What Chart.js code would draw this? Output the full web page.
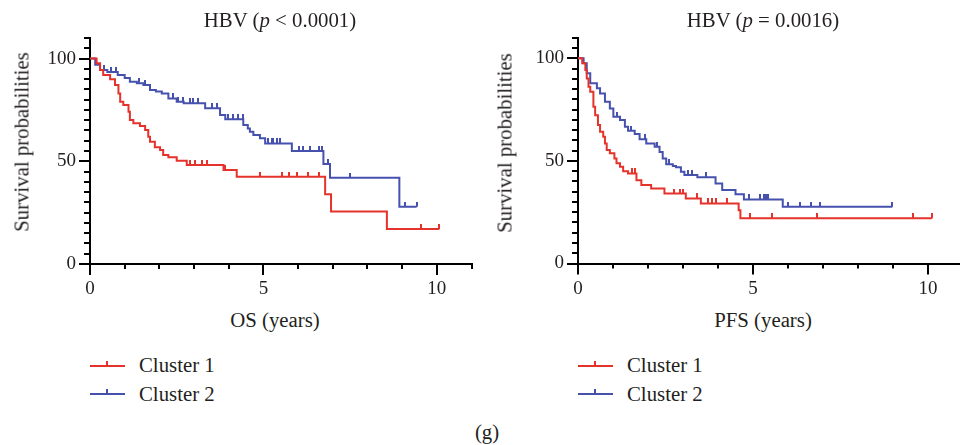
<!DOCTYPE html>
<html>
<head>
<meta charset="utf-8">
<script src="https://cdn.jsdelivr.net/npm/chart.js@4.4.1/dist/chart.umd.min.js"></script>
<style>
  html, body { margin: 0; padding: 0; background: #fff; }
  body { width: 960px; height: 445px; overflow: hidden; position: relative;
         font-family: "Liberation Serif", "DejaVu Serif", serif; color: #231f20; }
  canvas { position: absolute; top: 0; }
  #osChart { left: 0; }
  #pfsChart { left: 488px; }
  .txt { position: absolute; font-size: 20.8px; line-height: 21px; white-space: nowrap;
         transform: translate(-50%, -50%); }
  .ytitle { transform: translate(-50%, -50%) rotate(-90deg); }
  .lab { position: absolute; font-size: 20.8px; line-height: 21px; white-space: nowrap;
         transform: translateY(-50%); }
  .swatch { position: absolute; width: 35px; height: 2px; }
  .swatch::after { content: ''; position: absolute; left: 16px; top: -4px; width: 2px; height: 4px;
                   background: inherit; }
</style>
</head>
<body>
<canvas id="osChart" width="480" height="300"></canvas>
<canvas id="pfsChart" width="480" height="300"></canvas>

<div class="txt" style="left:280px; top:19px;">HBV (<i>p</i> &lt; 0.0001)</div>
<div class="txt" style="left:763px; top:19px;">HBV (<i>p</i> = 0.0016)</div>
<div class="txt ytitle" style="left:21px; top:142px;">Survival probabilities</div>
<div class="txt ytitle" style="left:504px; top:143px;">Survival probabilities</div>
<div class="txt" style="left:275px; top:319px;">OS (years)</div>
<div class="txt" style="left:763px; top:319px;">PFS (years)</div>

<div class="swatch" style="left:90px; top:364.7px; background:#e5322a;"></div>
<div class="lab" style="left:139px; top:364px;">Cluster 1</div>
<div class="swatch" style="left:90px; top:393.3px; background:#4651ae;"></div>
<div class="lab" style="left:139px; top:393px;">Cluster 2</div>

<div class="swatch" style="left:578px; top:364.7px; background:#e5322a;"></div>
<div class="lab" style="left:627px; top:364px;">Cluster 1</div>
<div class="swatch" style="left:578px; top:393.3px; background:#4651ae;"></div>
<div class="lab" style="left:627px; top:393px;">Cluster 2</div>

<div class="txt" style="left:487px; top:431px;">(g)</div>

<script>
// OS, cluster 1 (red)
const osC1Time = [0, 0.19, 0.29, 0.38, 0.58, 0.72, 0.82, 0.87, 0.96, 1.11, 1.15, 1.25, 1.44, 1.59, 1.68, 1.73,
  1.87, 2.02, 2.11, 2.26, 2.5, 2.79, 3.85, 4.23, 6.78, 6.95, 8.56];
const osC1Surv = [100, 97.7, 94.4, 92, 89.9, 87.1, 83, 79, 77.4, 74.1, 70.1, 68.5, 67.2, 65.2, 61.9, 59.5,
  56.8, 55.5, 53, 51.9, 50.3, 48.2, 45.7, 42.5, 33.9, 25.5, 17.0];
const osC1End = 10.07;
const osC1Censor = [2.88, 3.03, 3.22, 3.37, 3.89, 4.9, 5.53, 5.75, 5.98, 6.3, 6.61, 9.54, 10.07];

// OS, cluster 2 (blue)
const osC2Time = [0, 0.15, 0.29, 0.5, 0.8, 1.0, 1.15, 1.35, 1.54, 1.73, 1.9, 2.07, 2.26, 2.5, 2.7, 3.32,
  3.75, 3.9, 4.42, 4.55, 4.61, 4.71, 4.9, 5.05, 5.82, 6.73, 6.92, 8.92];
const osC2Surv = [100, 97, 94.4, 93.5, 92, 90.5, 88.7, 88, 87.1, 84.7, 84, 83, 80.6, 79, 78.2, 75.8,
  72.5, 70.4, 67.6, 66, 64.4, 62.8, 61.2, 58.7, 55, 48.7, 42.0, 27.9];
const osC2End = 9.42;
const osC2Censor = [0.4, 0.6, 0.75, 1.4, 1.6, 2.4, 2.55, 2.69, 2.88, 2.98, 3.12, 3.51, 3.65, 3.99, 4.13,
  4.28, 4.4, 5.14, 5.24, 5.29, 5.38, 5.48, 6.04, 6.15, 6.33, 6.59, 6.68, 6.87, 7.5, 9.07, 9.42];

// PFS, cluster 1 (red)
const pfsC1Time = [0, 0.12, 0.21, 0.25, 0.3, 0.35, 0.44, 0.49, 0.57, 0.63, 0.72, 0.77, 0.82, 0.91, 1.04,
  1.1, 1.2, 1.29, 1.43, 1.67, 1.81, 2.09, 2.47, 3.08, 3.51, 4.59, 4.64];
const pfsC1Surv = [100, 97.6, 94.3, 90.2, 86.1, 83.7, 76.4, 72.3, 67.5, 64.2, 61.8, 58.5, 55.3, 53.7, 51.2,
  48.8, 47.1, 45.0, 43.9, 40.6, 38.2, 36.6, 34.1, 31.7, 29.3, 26.0, 22.0];
const pfsC1End = 10.11;
const pfsC1Censor = [1.53, 1.62, 2.75, 2.9, 2.99, 3.41, 3.7, 3.84, 3.93, 4.26, 4.92, 5.54, 6.83, 9.56, 10.11];

// PFS, cluster 2 (blue)
const pfsC2Time = [0, 0.16, 0.25, 0.35, 0.54, 0.63, 0.77, 0.91, 1.01, 1.2, 1.34, 1.43, 1.62, 1.76, 1.95,
  2.19, 2.33, 2.42, 2.52, 2.71, 2.8, 2.94, 3.04, 3.41, 3.93, 4.12, 4.5, 4.74, 5.85];
const pfsC2Surv = [100, 97.6, 92.7, 87.8, 85.4, 82.9, 78.8, 75.6, 71.5, 69.9, 66.6, 64.7, 63.1, 60.5, 58.5,
  56.9, 54.4, 51.2, 48.4, 47.5, 46.9, 44.7, 43.1, 42.0, 39.0, 35.8, 33.8, 31.2, 27.6];
const pfsC2End = 8.98;
const pfsC2Censor = [1.1, 1.5, 1.9, 2.25, 2.6, 3.13, 3.27, 3.65, 4.88, 5.21, 5.3, 5.38, 5.44, 6.01, 6.34,
  6.67, 6.91, 8.98];

const RED = '#e5322a';
const BLUE = '#4651ae';
const TEXT = '#231f20';
const tickFont = { family: '"Liberation Serif", "DejaVu Serif", serif', size: 19 };

function stepPoints(times, surv, end) {
  const pts = times.map((t, i) => ({ x: t, y: surv[i] }));
  pts.push({ x: end, y: surv[surv.length - 1] });
  return pts;
}

function survAt(times, surv, t) {
  let s = surv[0];
  for (let i = 0; i < times.length; i++) {
    if (times[i] <= t) s = surv[i];
  }
  return s;
}

// little upward tick used for censored cases
function censorMark(color) {
  const c = document.createElement('canvas');
  c.width = 2;
  c.height = 10;
  const g = c.getContext('2d');
  g.fillStyle = color;
  g.fillRect(0, 0, 2, 5);
  return c;
}

function kmLine(times, surv, end, color) {
  return {
    data: stepPoints(times, surv, end),
    borderColor: color,
    borderWidth: 2,
    stepped: true,
    pointRadius: 0,
    fill: false
  };
}

function censorSet(times, surv, censor, color) {
  return {
    data: censor.map(t => ({ x: t, y: survAt(times, surv, t) })),
    showLine: false,
    pointStyle: censorMark(color),
    pointRadius: 5,
    borderWidth: 0
  };
}

const minorTicks = {
  id: 'minorTicks',
  afterDraw(chart) {
    const { ctx, chartArea, scales: { x, y } } = chart;
    ctx.save();
    ctx.strokeStyle = '#000';
    ctx.lineWidth = 2;
    ctx.beginPath();
    for (let v = 5; v <= y.max; v += 5) {
      if (v % 50 === 0) continue;
      const py = Math.round(y.getPixelForValue(v));
      ctx.moveTo(chartArea.left, py);
      ctx.lineTo(chartArea.left - 6, py);
    }
    for (let v = 1; v <= x.max; v += 1) {
      if (v % 5 === 0) continue;
      const px = Math.round(x.getPixelForValue(v));
      ctx.moveTo(px, chartArea.bottom);
      ctx.lineTo(px, chartArea.bottom + 5);
    }
    ctx.stroke();
    ctx.restore();
  }
};

function makeChart(id, c1, c2, padRight, padTop, xHeight) {
  return new Chart(document.getElementById(id), {
    type: 'line',
    data: {
      datasets: [
        censorSet(c1.time, c1.surv, c1.censor, RED),
        kmLine(c1.time, c1.surv, c1.end, RED),
        censorSet(c2.time, c2.surv, c2.censor, BLUE),
        kmLine(c2.time, c2.surv, c2.end, BLUE)
      ]
    },
    options: {
      responsive: false,
      animation: false,
      layout: { padding: { left: 0, right: padRight, top: padTop, bottom: 0 } },
      plugins: { legend: { display: false }, tooltip: { enabled: false } },
      scales: {
        x: {
          type: 'linear',
          min: 0,
          max: 11,
          afterFit: s => { s.height = xHeight; },
          ticks: { stepSize: 5, includeBounds: false, font: tickFont, color: TEXT, padding: 3, maxRotation: 0 },
          grid: { drawOnChartArea: false, color: '#000', lineWidth: 2, tickLength: 11 },
          border: { color: '#000', width: 2 }
        },
        y: {
          min: 0,
          max: 110,
          afterFit: s => { s.width = 90; },
          ticks: { stepSize: 50, includeBounds: false, font: tickFont, color: TEXT, padding: 3 },
          grid: { drawOnChartArea: false, color: '#000', lineWidth: 2, tickLength: 11 },
          border: { color: '#000', width: 2 }
        }
      }
    },
    plugins: [minorTicks]
  });
}

makeChart('osChart',
  { time: osC1Time, surv: osC1Surv, end: osC1End, censor: osC1Censor },
  { time: osC2Time, surv: osC2Surv, end: osC2End, censor: osC2Censor },
  8.5, 38, 36);
makeChart('pfsChart',
  { time: pfsC1Time, surv: pfsC1Surv, end: pfsC1End, censor: pfsC1Censor },
  { time: pfsC2Time, surv: pfsC2Surv, end: pfsC2End, censor: pfsC2Censor },
  1, 37.8, 36.5);
</script>
</body>
</html>
